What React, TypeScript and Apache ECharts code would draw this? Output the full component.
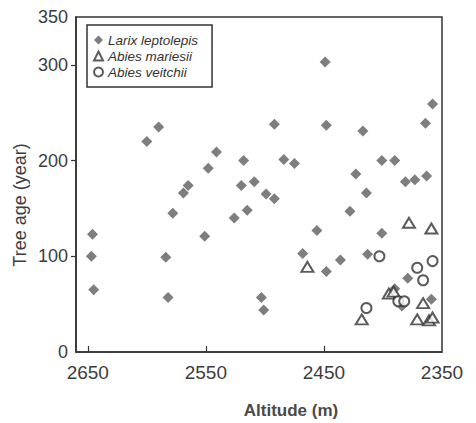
import React, { useEffect, useRef } from "react";
import * as echarts from "echarts";

// Altitude (m), Tree age (year)
const larixPoints: [number, number][] = [
  [2646, 123], [2647, 100], [2645, 65], [2600, 220], [2590, 235], [2584, 99],
  [2582, 57], [2578, 145], [2569, 166], [2565, 174], [2551, 121], [2548, 192],
  [2541, 209], [2526, 140], [2520, 174], [2518, 200], [2515, 148], [2509, 178],
  [2503, 57], [2501, 44], [2499, 165], [2492, 238], [2492, 160], [2484, 201],
  [2475, 197], [2468, 103], [2456, 127], [2449, 303], [2448, 237], [2448, 84],
  [2436, 96], [2428, 147], [2423, 186], [2417, 231], [2414, 166], [2413, 102],
  [2401, 200], [2401, 124], [2390, 200], [2381, 178], [2379, 77], [2390, 66],
  [2384, 48], [2373, 180], [2364, 239], [2363, 184], [2359, 55], [2358, 259],
];

const mariesiiPoints: [number, number][] = [
  [2464, 89], [2418, 34], [2395, 61], [2391, 63], [2378, 135], [2371, 34],
  [2366, 51], [2361, 33], [2359, 129], [2358, 36],
];

const veitchiiPoints: [number, number][] = [
  [2414, 46], [2403, 100], [2387, 53], [2382, 53], [2371, 88], [2366, 75], [2358, 95],
];

const seriesNames = ["Larix leptolepis", "Abies mariesii", "Abies veitchii"];
const xTickValues = [2650, 2550, 2450, 2350];
const xTickMarks = [2650, 2550, 2450];
const yLabelValues = [0, 100, 200, 300, 350];
const yTickMarks = [100, 200, 300];
const xTitle = "Altitude (m)";
const yTitle = "Tree age (year)";

const FONT = "'Liberation Sans', Arial, sans-serif";
const INK = "#333";
const LABEL = "#3d3d3d";

export default function App() {
  const ref = useRef<HTMLDivElement>(null);
  useEffect(() => {
    if (!ref.current) return;
    const chart = echarts.init(ref.current, undefined, { renderer: "svg" });
    chart.setOption({
      animation: false,
      backgroundColor: "#fff",
      grid: {
        left: 76,
        right: 34,
        top: 17,
        bottom: 71,
        show: true,
        borderColor: INK,
        borderWidth: 1.5,
        backgroundColor: "transparent",
      },
      legend: {
        data: seriesNames,
        orient: "vertical",
        left: 87,
        top: 25,
        padding: [8, 14, 8, 6],
        itemGap: 2,
        itemWidth: 9,
        itemHeight: 9,
        borderColor: INK,
        borderWidth: 1.5,
        backgroundColor: "#fff",
        textStyle: {
          fontFamily: FONT,
          fontStyle: "italic",
          fontSize: 13.5,
          lineHeight: 14,
          color: INK,
        },
      },
      xAxis: {
        type: "value",
        inverse: true,
        min: 2350,
        max: 2660,
        axisLine: { show: true, onZero: false, lineStyle: { color: INK, width: 1.5 } },
        axisTick: {
          show: true,
          inside: true,
          length: 6,
          customValues: xTickMarks,
          lineStyle: { color: INK, width: 1.2 },
        },
        axisLabel: {
          customValues: xTickValues,
          formatter: (v: number) => String(v),
          fontFamily: FONT,
          fontSize: 19,
          color: LABEL,
          margin: 11,
        },
        splitLine: { show: false },
      },
      yAxis: {
        type: "value",
        min: 0,
        max: 350,
        axisLine: { show: true, onZero: false, lineStyle: { color: INK, width: 1.5 } },
        axisTick: {
          show: true,
          inside: false,
          length: 5,
          customValues: yTickMarks,
          lineStyle: { color: INK, width: 1.2 },
        },
        axisLabel: {
          customValues: yLabelValues,
          formatter: (v: number) => String(v),
          fontFamily: FONT,
          fontSize: 18,
          color: LABEL,
          margin: 8,
        },
        splitLine: { show: false },
      },
      graphic: [
        {
          type: "text",
          x: 20,
          y: 205,
          rotation: Math.PI / 2,
          style: {
            text: yTitle,
            fontFamily: FONT,
            fontSize: 18,
            fill: LABEL,
            align: "center",
            verticalAlign: "middle",
          },
        },
        {
          type: "text",
          x: 291,
          y: 410,
          style: {
            text: xTitle,
            fontFamily: FONT,
            fontSize: 17,
            fontWeight: "bold",
            fill: "#4a4a4a",
            align: "center",
            verticalAlign: "middle",
          },
        },
      ],
      series: [
        {
          name: seriesNames[0],
          type: "scatter",
          data: larixPoints,
          symbol: "diamond",
          symbolSize: 11,
          itemStyle: { color: "#5e5e5e" },
          z: 2,
        },
        {
          name: seriesNames[1],
          type: "scatter",
          data: mariesiiPoints,
          symbol: "emptyTriangle",
          symbolSize: [12, 10],
          itemStyle: { color: INK, borderColor: INK, borderWidth: 1.5 },
          z: 3,
        },
        {
          name: seriesNames[2],
          type: "scatter",
          data: veitchiiPoints,
          symbol: "emptyCircle",
          symbolSize: 10,
          itemStyle: { color: INK, borderColor: INK, borderWidth: 1.5 },
          z: 3,
        },
      ],
    });
    return () => chart.dispose();
  }, []);
  return (
    <div
      ref={ref}
      style={{ position: "fixed", left: 0, top: 0, width: 476, height: 423, background: "#fff" }}
    />
  );
}
